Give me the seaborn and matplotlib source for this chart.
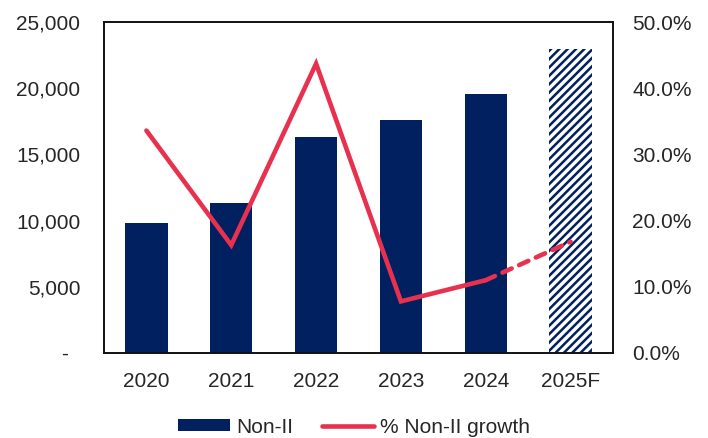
import numpy as np
import pandas as pd
import matplotlib
matplotlib.use("Agg")
import matplotlib.pyplot as plt
import seaborn as sns
from matplotlib.patches import Patch
from matplotlib.lines import Line2D
from matplotlib.ticker import FuncFormatter, MultipleLocator

years = ["2020", "2021", "2022", "2023", "2024", "2025F"]
non_ii = [9800, 11350, 16350, 17600, 19550, 22950]
growth = [33.6, 16.3, 43.7, 7.8, 11.0, 16.8]
forecast_flags = [False, False, False, False, False, True]

navy = "#002060"
red = "#E8304F"

sns.set_style("white")
plt.rcParams["font.family"] = ["Liberation Sans", "DejaVu Sans"]
plt.rcParams["hatch.linewidth"] = 1.8

fig = plt.figure(figsize=(7.08, 4.38), dpi=100)
ax = fig.add_axes([104/708, 85/438, 509/708, 331/438])

df = pd.DataFrame({"year": years, "value": non_ii})
sns.barplot(data=df, x="year", y="value", color=navy, saturation=1,
            width=0.5, ax=ax, linewidth=0)
for p, fc in zip(ax.patches, forecast_flags):
    if fc:
        p.set_facecolor("white")
        p.set_edgecolor(navy)
        p.set_hatch("////")
        p.set_linewidth(0)

ax.set_ylim(0, 25000)
ax.set_xlim(-0.5, 5.5)
ax.yaxis.set_major_locator(MultipleLocator(5000))
ax.yaxis.set_major_formatter(FuncFormatter(lambda v, _: "-  " if v == 0 else f"{v:,.0f}"))
ax.set_xlabel("")
ax.set_ylabel("")
ax.tick_params(axis="y", length=0, pad=17, labelsize=15)
ax.tick_params(axis="x", length=0, pad=14, labelsize=15)

ax2 = ax.twinx()
pos = np.arange(len(years))
n_act = forecast_flags.index(True)
sns.lineplot(x=pos[:n_act], y=growth[:n_act], ax=ax2, color=red, linewidth=3.3,
             solid_capstyle="round", solid_joinstyle="miter")
sns.lineplot(x=pos[n_act-1:], y=growth[n_act-1:], ax=ax2, color=red, linewidth=3.3,
             dashes=False)
ax2.lines[-1].set_linestyle((0, (2.2, 1.8)))
ax2.lines[-1].set_dash_capstyle("round")
ax2.set_ylim(0, 50)
ax2.set_xlim(-0.5, 5.5)
ax2.yaxis.set_major_locator(MultipleLocator(10))
ax2.yaxis.set_major_formatter(FuncFormatter(lambda v, _: f"{v:.1f}%"))
ax2.tick_params(axis="y", length=0, pad=14, labelsize=15)
ax2.set_ylabel("")

for a in (ax, ax2):
    for s in a.spines.values():
        s.set_visible(True)
        s.set_color("#111111")
        s.set_linewidth(1.2)

handles = [Patch(facecolor=navy, edgecolor="none"),
           Line2D([0], [0], color=red, linewidth=3.3, solid_capstyle="round")]
fig.legend(handles, ["Non-II", "% Non-II growth"], loc="lower center",
           bbox_to_anchor=(0.5, -0.04), ncol=2, frameon=False, fontsize=15,
           handlelength=2.5, handletextpad=0.3, columnspacing=1.4, handleheight=0.5)

fig.savefig("out.png", dpi=100)
